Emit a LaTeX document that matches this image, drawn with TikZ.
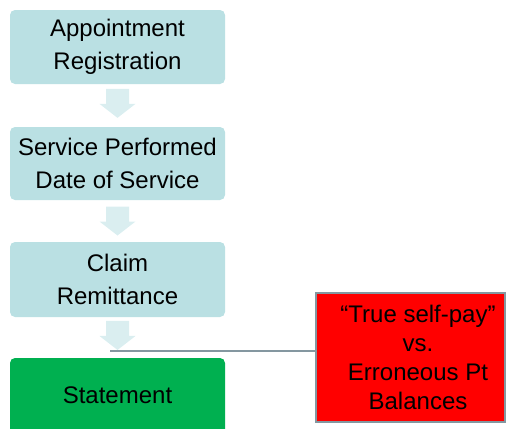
\documentclass[tikz,border=0pt]{standalone}
\usepackage{fontspec}
\setmainfont{Liberation Sans}
\usetikzlibrary{calc}
\definecolor{stepfill}{HTML}{BAE0E3}
\definecolor{arrowfill}{HTML}{DAEEF0}
\definecolor{okgreen}{HTML}{00B050}
\definecolor{alertred}{HTML}{FF0000}
\definecolor{linkgray}{HTML}{8497A0}
\tikzset{
  stepbox/.style={fill=stepfill, rounded corners=5pt, minimum width=215pt,
    inner sep=0pt, align=center, font=\fontsize{24pt}{33pt}\selectfont},
  flowarrow/.style={fill=arrowfill},
  link/.style={draw=linkgray, line width=2.2pt},
  notebox/.style={fill=alertred, draw=linkgray, line width=2pt,
    minimum width=189pt, minimum height=129pt, inner sep=0pt}
}
\newcommand{\blockarrow}[1]{%
  \fill[flowarrow] ($(#1)+(-11.5,-14.5)$) -- ++(23,0) -- ++(0,15) -- ++(6.5,0)
    -- ($(#1)+(0,14.5)$) -- ($(#1)+(-18,0.5)$) -- ++(6.5,0) -- cycle;}
\begin{document}
\begin{tikzpicture}[x=1pt,y=-1pt]
  \useasboundingbox (0,0) rectangle (507,429);
  \clip (0,0) rectangle (507,429);

  \node[stepbox, minimum height=74pt] (appt) at (117.5,47) {Appointment\\Registration};
  \node[stepbox, minimum height=73pt] (serv) at (117.5,163.5) {Service Performed\\Date of Service};
  \node[stepbox, minimum height=75pt] (claim) at (117.5,279.5) {Claim\\Remittance};
  \node[stepbox, fill=okgreen, minimum height=90pt] (stmt) at (117.5,403) {};
  \node[font=\fontsize{24pt}{33pt}\selectfont, anchor=base] (stmtlabel) at (117.5,403) {Statement};

  % block arrows between the steps
  \path (appt.south) -- (serv.north) coordinate[pos=0.45] (a1);
  \path (serv.south) -- (claim.north) coordinate[pos=0.5] (a2);
  \path (claim.south) -- (stmt.north) coordinate[pos=0.45] (a3);
  \blockarrow{a1}
  \blockarrow{a2}
  \blockarrow{a3}

  % side note
  \node[notebox] (note) at (410.5,357.5) {};
  \node[align=center, font=\fontsize{24pt}{29pt}\selectfont, anchor=north, inner sep=0pt]
    (notetext) at (418,305) {“True self-pay”\\vs.\\Erroneous Pt\\Balances};

  \coordinate (tap) at (110,351);
  \draw[link] (tap) -- (tap -| note.west);
\end{tikzpicture}
\end{document}
